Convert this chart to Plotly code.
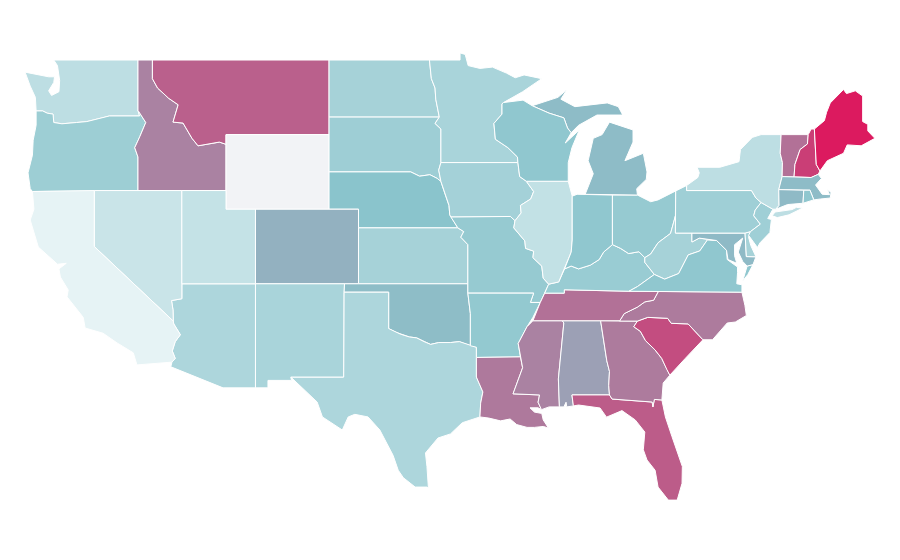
import plotly.graph_objects as go
from plotly.colors import sample_colorscale

# Value read from the shade of each state (None = no data)
state_values = {
    "CA": 0.00, "NV": 0.095, "UT": 0.11, "WA": 0.134, "NY": 0.134, "IL": 0.117, "TX": 0.186, "AZ": 0.186,
    "NM": 0.20, "KS": 0.21, "SD": 0.235, "ND": 0.21, "MN": 0.20, "IA": 0.215, "OR": 0.238, "MO": 0.26,
    "AR": 0.27, "NE": 0.30, "OK": 0.33, "WI": 0.28, "MI": 0.335, "IN": 0.28, "OH": 0.26, "KY": 0.25,
    "WV": 0.21, "VA": 0.28, "PA": 0.23, "NJ": 0.23, "DE": 0.21, "MD": 0.34, "VT": 0.64, "NH": 0.85,
    "ME": 1.00, "MA": 0.335, "CT": 0.34, "RI": 0.28, "TN": 0.64, "NC": 0.60, "SC": 0.79, "GA": 0.60,
    "AL": 0.45, "MS": 0.57, "LA": 0.61, "FL": 0.73, "ID": 0.57, "MT": 0.71, "CO": 0.38, "WY": None,
}
colorscale = [[0, "#e6f3f5"], [0.3, "#8ac4cc"], [1, "#dc1a5f"]]
no_data_color = "#f2f3f6"

# Shared wiggly borders (lon, lat)
snake = [(-117.03,43.8),(-117.25,44.3),(-116.9,44.9),(-116.5,45.65),(-117.03,46.3)]
columbia = [(-118.98,46.0),(-119.3,45.93),(-120.5,45.7),(-121.2,45.65),(-122.2,45.58),(-122.75,45.65),(-122.8,46.1),(-123.2,46.15),(-123.5,46.27),(-123.95,46.27)]
mt_id = [(-116.05,48),(-115.7,47.5),(-114.95,46.95),(-114.3,46.6),(-114.65,45.67),(-113.97,45.62),(-113.36,44.8),(-112.95,44.4),(-111.5,44.6),(-111.05,44.48)]
red_river = [(-100,34.6),(-99.5,34.4),(-99.2,34.3),(-98.6,34.15),(-98.1,34.1),(-97.6,33.9),(-97.15,33.75),(-96.6,33.85),(-95.8,33.85),(-95.2,33.9),(-94.45,33.68)]
missouri = [(-96.45,42.49),(-96.25,42.0),(-96.1,41.7),(-95.9,41.2),(-95.85,40.7)]
ms_upper = [(-91.42,40.38),(-91.5,40.0),(-90.75,39.3),(-90.7,38.9),(-90.15,38.75),(-90.2,38.4),(-89.6,37.95),(-89.5,37.3),(-89.13,36.98)]
ms_lower = [(-89.7,36),(-90.2,35.2),(-90.6,34.7),(-91.2,33.8),(-91.05,33.08)]
ms_la = [(-91.05,33.08),(-90.9,32.5),(-91.55,31.1),(-89.75,31.04),(-89.85,30.65),(-89.62,30.25)]
ohio_river = [(-84.8,39.1),(-85.4,38.7),(-85.7,38.3),(-86.3,38.0),(-87.1,37.8),(-87.6,37.95),(-88.05,37.8)]
ky_oh = [(-82.6,38.4),(-83.0,38.72),(-83.7,38.62),(-84.25,38.9),(-84.8,39.1)]
va_wv = [(-77.72,39.32),(-78.35,39.35),(-78.87,38.76),(-79.65,38.55),(-80.3,37.55),(-81.25,37.25),(-81.95,37.5)]
savannah = [(-83.1,35),(-83.35,34.7),(-82.9,34.45),(-82.55,33.95),(-81.9,33.45),(-81.45,33.0),(-81.1,32.4),(-80.9,32.1)]
tn_nc = [(-84.32,35),(-84,35.4),(-83.1,35.75),(-82.6,36.03),(-82,36.12),(-81.68,36.59)]
sc_nc = [(-83.1,35),(-82.4,35.2),(-81.05,35.15),(-80.8,34.88),(-79.66,34.85),(-78.65,34)]
fl_ga = [(-85,31.04),(-84.82,30.82),(-82.1,30.66),(-82.05,30.4),(-81.95,30.8),(-81.44,30.77)]
pa_ny_nj = [(-75.35,42),(-75.05,41.6),(-74.7,41.36)]
pa_nj = [(-74.7,41.36),(-75.1,40.95),(-75.2,40.65),(-74.75,40.2),(-75.42,39.8)]
up_wi = [(-90.25,46.55),(-89.1,46.15),(-88.1,45.9),(-87.85,45.35),(-87.6,45.1)]

# State outlines (lon, lat); each state is a list of rings
outlines = {
 "WA": [[(-124.7,48.35),(-123.1,48.1),(-122.7,48.1),(-122.75,47.8),(-123.1,47.35),(-122.9,47.1),(-122.4,47.3),(-122.35,47.9),(-122.5,48.7),(-122.75,49),(-117.03,49),(-117.03,46.3),(-116.92,46.0),*columbia,(-124.0,47.0),(-124.35,47.6)]],
 "OR": [[(-123.95,46.27),(-123.95,45.5),(-124.15,44.7),(-124.2,43.9),(-124.5,42.95),(-124.35,42.1),(-124.2,41.95),(-117.03,42),*snake,(-116.92,46.0),*columbia]],
 "ID": [[(-117.03,49),(-116.05,49),*mt_id,(-111.05,42),(-117.03,42),*snake]],
 "MT": [[(-116.05,49),(-104.05,49),(-104.05,45),(-111.05,45),*reversed(mt_id)]],
 "WY": [[(-111.05,45),(-104.05,45),(-104.05,41),(-111.05,41)]],
 "ND": [[(-104.05,49),(-97.23,49),(-97.1,48.0),(-96.85,47.5),(-96.8,46.9),(-96.56,45.94),(-104.05,45.94)]],
 "SD": [[(-104.05,45.94),(-96.56,45.94),(-96.85,45.6),(-96.45,45.3),(-96.45,43.5),(-96.6,43.1),(-96.45,42.49),(-96.7,42.65),(-97.2,42.85),(-97.9,42.77),(-98.5,43.0),(-104.05,43)]],
 "NE": [[(-104.05,43),(-98.5,43),(-97.9,42.77),(-97.2,42.85),(-96.7,42.65),*missouri,(-95.3,40.0),(-102.05,40),(-102.05,41),(-104.05,41)]],
 "CO": [[(-109.05,41),(-102.05,41),(-102.05,37),(-109.05,37)]],
 "KS": [[(-102.05,40),(-95.3,40),(-94.9,39.8),(-95.1,39.5),(-94.62,39.1),(-94.62,37),(-102.05,37)]],
 "OK": [[(-103,37),(-94.62,37),(-94.62,36.5),(-94.45,35.4),*reversed(red_river),(-100,36.55),(-103.04,36.55)]],
 "TX": [[(-103.04,36.55),(-100,36.55),*red_river,(-94.04,33.6),(-94.04,33.05),(-94.04,32.0),(-93.6,31.2),(-93.75,30.6),(-93.8,29.86),(-94.7,29.6),(-95.0,29.55),(-95.8,28.95),(-96.65,28.73),(-97.5,27.93),(-97.4,27.2),(-97.3,26.05),(-97.4,26.1),(-98.2,26.1),(-99,26.6),(-99.35,27),(-99.7,27.8),(-100.6,29.16),(-101.4,29.86),(-102.3,30),(-102.75,29.86),(-103.15,29.16),(-104.5,29.86),(-104.86,30.66),(-106.2,31.7),(-106.65,32.0),(-103.06,32.0)]],
 "NM": [[(-109.05,37),(-103,37),(-103.04,36.55),(-103.06,32),(-106.65,32),(-106.6,31.82),(-108.2,31.82),(-108.2,31.42),(-109.05,31.42)]],
 "AZ": [[(-114.05,37),(-109.05,37),(-109.05,31.42),(-111.25,31.42),(-114.8,32.55),(-114.72,32.8),(-114.5,33.0),(-114.7,33.4),(-114.5,33.9),(-114.15,34.27),(-114.6,34.85),(-114.63,35.0),(-114.65,35.6),(-114.75,36.1),(-114.05,36.2)]],
 "NV": [[(-120,42),(-114.05,42),(-114.05,36.2),(-114.75,36.1),(-114.65,35.6),(-114.63,35.0),(-120,39)]],
 "UT": [[(-114.05,42),(-111.05,42),(-111.05,41),(-109.05,41),(-109.05,37),(-114.05,37)]],
 "CA": [[(-124.2,41.95),(-120,42),(-120,39),(-114.63,35),(-114.6,34.85),(-114.15,34.27),(-114.5,33.9),(-114.7,33.4),(-114.5,33),(-114.72,32.8),(-117.1,32.65),(-117.35,33.3),(-118.45,33.83),(-119.4,34.35),(-120.62,34.63),(-120.75,35.2),(-121.85,36.3),(-121.77,36.67),(-122.3,37.36),(-122.4,37.8),(-121.9,38.1),(-122.5,38.05),(-123.8,38.97),(-124.35,40.42),(-124.1,41)]],
 "MN": [[(-97.23,49),(-95.15,49),(-95.15,49.38),(-94.8,49.3),(-94.6,48.7),(-93.8,48.55),(-92.95,48.62),(-92.0,48.3),(-91.4,48.05),(-90.8,48.2),(-89.6,48.0),(-90.9,47.3),(-92.2,46.72),(-92.3,46.65),(-92.3,46.1),(-92.85,45.6),(-92.75,44.75),(-91.9,44.3),(-91.25,43.8),(-91.22,43.5),(-96.45,43.5),(-96.45,45.3),(-96.85,45.6),(-96.56,45.94),(-96.8,46.9),(-96.85,47.5),(-97.1,48.0)]],
 "IA": [[(-96.45,43.5),(-91.22,43.5),(-91.1,42.75),(-90.65,42.5),(-90.15,41.95),(-90.35,41.55),(-91.05,41.2),(-91.0,40.8),(-91.42,40.38),(-91.73,40.61),(-95.77,40.58),*reversed(missouri),(-96.6,43.1)]],
 "MO": [[(-95.77,40.58),(-91.73,40.61),*ms_upper,(-89.4,36.5),(-89.7,36.0),(-90.37,36.0),(-90.15,36.5),(-94.62,36.5),(-94.62,39.1),(-95.1,39.5),(-94.9,39.8),(-95.3,40.0)]],
 "AR": [[(-94.62,36.5),(-90.15,36.5),(-90.37,36),*ms_lower,(-94.04,33.05),(-94.04,33.6),(-94.45,33.68),(-94.45,35.4)]],
 "LA": [[(-94.04,33.05),*ms_la,(-89.85,30.35),(-90.4,30.35),(-90.1,30.12),(-89.6,30.05),(-89.5,29.7),(-89.15,29.27),(-89.5,29.35),(-90.1,29.3),(-90.6,29.3),(-91.3,29.45),(-91.75,29.75),(-92.4,29.65),(-93.2,29.8),(-93.8,29.86),(-93.75,30.6),(-93.6,31.2),(-94.04,32)]],
 "MS": [[(-90.2,35.02),(-88.2,35.02),(-88.1,34.9),(-88.47,31.9),(-88.4,30.4),(-89.1,30.4),*reversed(ms_la),(-91.2,33.8),(-90.6,34.7)]],
 "AL": [[(-88.2,35.02),(-85.6,35.02),(-85.18,32.87),(-85.0,32.3),(-85.05,31.55),(-85.0,31.04),(-87.55,31.04),(-87.45,30.45),(-87.9,30.4),(-87.95,30.65),(-88.1,30.4),(-88.4,30.4),(-88.47,31.9),(-88.1,34.9)]],
 "FL": [[(-87.55,31.04),*fl_ga,(-81.2,29.86),(-80.75,28.8),(-80.05,27.2),(-80.07,26.3),(-80.4,25.4),(-81,25.4),(-81.7,26.1),(-81.9,27),(-82.45,27.55),(-82.7,28.1),(-82.6,29.05),(-83.25,29.7),(-84.15,30.2),(-85.2,29.85),(-85.64,30.34),(-87.1,30.5),(-87.45,30.45)]],
 "GA": [[(-85.6,35.02),*savannah,(-81.35,31.68),(-81.44,30.77),*reversed(fl_ga),(-85.05,31.55),(-85,32.3),(-85.18,32.87)]],
 "SC": [[*sc_nc,(-79.85,33),(-80.9,32.1),*reversed(savannah)]],
 "NC": [[*tn_nc[:1],*sc_nc,(-78,34),(-77,34.9),(-76.45,34.95),(-75.7,35.3),(-75.8,35.85),(-76,36.55),*reversed(tn_nc)]],
 "TN": [[(-90.2,35.02),(-84.32,35.02),*tn_nc,(-83.68,36.6),(-88.07,36.68),(-88.07,36.5),(-89.4,36.5),(-89.7,36)]],
 "KY": [[(-89.4,36.5),(-88.07,36.5),(-88.07,36.68),(-83.68,36.6),(-83.1,36.85),(-81.95,37.5),(-82.6,38.15),*ky_oh,*ohio_river[1:],(-88.45,37.1),(-89.13,36.98)]],
 "IL": [[(-90.65,42.5),(-87.8,42.5),(-87.53,41.7),(-87.53,39.35),(-87.6,38.7),(-88.05,37.8),(-88.45,37.1),*reversed(ms_upper),(-91,40.8),(-91.05,41.2),(-90.35,41.55),(-90.15,41.95)]],
 "IN": [[(-87.53,41.7),(-87.2,41.8),(-84.8,41.76),*ohio_river,(-87.6,38.7),(-87.53,39.35)]],
 "OH": [[(-84.8,41.76),(-83.1,41.76),(-82.2,41.4),(-81.7,41.5),(-80.5,41.98),(-80.52,40.64),(-80.85,39.7),(-81.7,39.2),(-82.2,38.6),*ky_oh]],
 "WV": [[(-80.52,40.64),(-80.52,39.72),(-79.4,39.72),(-79.4,39.24),(-78.9,39.45),(-78.35,39.4),*va_wv,(-82.6,38.15),(-82.6,38.4),(-82.2,38.6),(-81.7,39.2),(-80.85,39.7)]],
 "VA": [[(-83.68,36.6),(-81.68,36.59),(-76,36.55),(-76.0,36.95),(-76.35,37.0),(-76.3,37.6),(-76.3,37.9),(-77.0,38.3),(-77.05,38.8),*va_wv,(-83.1,36.85)],[(-75.95,37.15),(-75.65,37.95),(-75.25,38.03),(-75.6,37.5)]],
 "MD": [[(-79.4,39.72),(-75.79,39.72),(-75.7,38.46),(-75.05,38.45),(-75.25,38.03),(-75.65,37.95),(-75.95,38.2),(-76.25,38.7),(-75.95,39.45),(-76.5,39.1),(-76.5,38.5),(-76.35,38.1),(-76.95,38.3),(-77.05,38.8),(-77.72,39.32),(-78.35,39.4),(-78.9,39.45),(-79.4,39.24)]],
 "DE": [[(-75.79,39.72),(-75.42,39.8),(-75.55,39.5),(-75.4,39.05),(-75.05,38.45),(-75.7,38.46)]],
 "PA": [[(-80.5,41.98),(-79.76,42.27),(-79.76,42),*pa_ny_nj,*pa_nj[1:],(-75.79,39.72),(-80.52,39.72)]],
 "NJ": [[(-74.7,41.36),(-73.9,41.0),(-74.25,40.5),(-74.0,40.45),(-74.1,39.75),(-74.77,39.2),(-74.95,38.95),(-75.3,39.3),(-75.55,39.6),*reversed(pa_nj[1:])]],
 "NY": [[(-79.76,42.27),(-79.0,42.7),(-78.9,42.95),(-79.05,43.25),(-77.5,43.25),(-76.2,43.55),(-76.1,44.2),(-75.3,44.85),(-74.7,45),(-73.34,45),(-73.4,44),(-73.25,43.5),(-73.27,42.75),(-73.5,42.05),(-73.48,41.2),(-73.7,41.0),(-73.9,41.0),*reversed(pa_ny_nj),(-79.76,42)],[(-73.95,40.65),(-73.75,40.85),(-72.6,40.98),(-72.3,41.1),(-71.87,41.06),(-72.8,40.7),(-73.6,40.55)]],
 "VT": [[(-73.34,45),(-71.5,45),(-71.55,44.5),(-72.05,44.2),(-72.4,43.4),(-72.46,42.73),(-73.27,42.75),(-73.25,43.5),(-73.4,44)]],
 "NH": [[(-71.5,45),(-71.3,45.3),(-71.08,45.3),(-70.95,43.4),(-70.7,43.05),(-70.82,42.87),(-71.3,42.7),(-72.46,42.73),(-72.4,43.4),(-72.05,44.2),(-71.55,44.5)]],
 "ME": [[(-71.08,45.3),(-70.4,45.75),(-70.25,46.2),(-70.0,46.7),(-69.1,47.42),(-68.9,47.2),(-68.3,47.35),(-67.8,47.07),(-67.8,45.7),(-67.45,45.55),(-67.45,45.2),(-66.97,44.8),(-67.9,44.4),(-68.85,44.45),(-69.1,44),(-70.2,43.6),(-70.7,43.05),(-70.95,43.4)]],
 "MA": [[(-73.5,42.05),(-73.27,42.75),(-72.46,42.73),(-71.3,42.7),(-70.82,42.87),(-70.6,42.65),(-71.0,42.3),(-70.55,41.8),(-70.05,41.78),(-70.2,42.07),(-69.95,41.9),(-70.0,41.6),(-70.65,41.55),(-71.12,41.5),(-71.38,42.02),(-71.8,42.02)]],
 "CT": [[(-73.5,42.05),(-71.8,42.02),(-71.85,41.32),(-72.9,41.25),(-73.7,41.0),(-73.48,41.2)]],
 "RI": [[(-71.8,42.02),(-71.38,42.02),(-71.12,41.5),(-71.85,41.32)]],
 "MI": [[(-86.65,41.8),(-84.8,41.76),(-83.1,41.76),(-83.15,42.1),(-82.5,42.6),(-82.45,43),(-82.7,44),(-83.95,43.6),(-83.4,44.6),(-83.4,45.25),(-85,45.67),(-85.5,45.0),(-86.1,44.8),(-86.45,43.6),(-86.1,42.9)],[(-90.25,46.55),(-88.5,47),(-87.9,47.4),(-88.3,46.9),(-87.35,46.5),(-85.15,46.7),(-84.4,46.5),(-84.1,46.05),(-85.85,46.05),(-87.1,45.5),(-87.6,45.1),(-87.85,45.35),(-88.1,45.9),(-89.1,46.15)]],
 "WI": [[(-92.2,46.72),(-90.87,46.85),*up_wi,(-88,44.55),(-87.05,45.25),(-87.55,44.3),(-87.8,43.5),(-87.8,42.5),(-90.65,42.5),(-91.1,42.75),(-91.22,43.5),(-91.25,43.8),(-91.9,44.3),(-92.75,44.75),(-92.85,45.6),(-92.3,46.1),(-92.3,46.65)]],
}

fig = go.Figure()
for state, rings in outlines.items():
    value = state_values[state]
    color = no_data_color if value is None else sample_colorscale(colorscale, [value], colortype="rgb")[0]
    lons, lats = [], []
    for ring in rings:
        lons += [p[0] for p in ring] + [ring[0][0], None]
        lats += [p[1] for p in ring] + [ring[0][1], None]
    fig.add_trace(go.Scatter(x=lons, y=lats, mode="lines", fill="toself", fillcolor=color, name=state,
                             line=dict(color="white", width=1), hoveron="fills", showlegend=False))

fig.update_xaxes(range=[-125.86, -64.72], visible=False)
fig.update_yaxes(range=[21.76, 51.79], visible=False)
fig.update_layout(width=900, height=560, margin=dict(l=0, r=0, t=0, b=0),
                  paper_bgcolor="white", plot_bgcolor="white", showlegend=False)
fig.write_html("out.html")
